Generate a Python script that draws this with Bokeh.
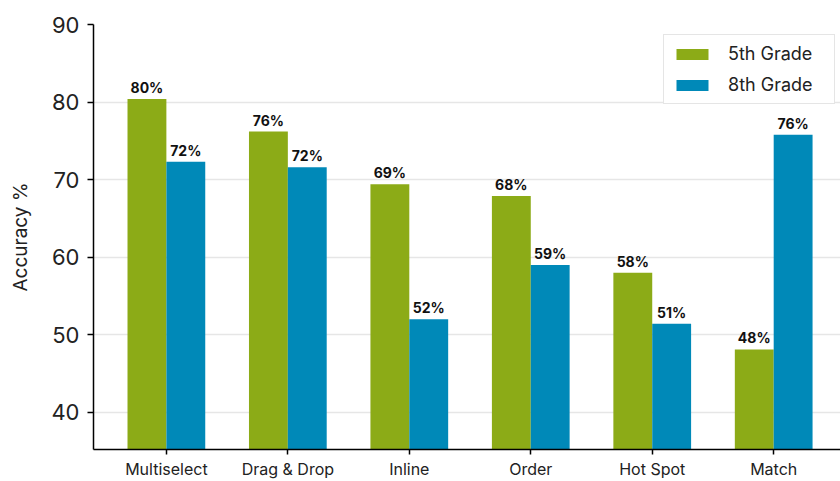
from bokeh.plotting import figure
from bokeh.models import ColumnDataSource, Range1d, FixedTicker, Legend, LegendItem
from bokeh.transform import dodge
from bokeh.core.properties import value
from bokeh.embed import file_html
from bokeh.resources import INLINE

categories = ["Multiselect", "Drag & Drop", "Inline", "Order", "Hot Spot", "Match"]
grade5 = [80.4, 76.2, 69.4, 67.9, 58.0, 48.1]
grade8 = [72.3, 71.6, 52.0, 59.0, 51.4, 75.8]
series_names = ["5th Grade", "8th Grade"]
y_ticks = [40, 50, 60, 70, 80, 90]

FONT = "Inter"
GREEN = "#8cab17"
BLUE = "#0089b8"

xs = list(range(len(categories)))
src = ColumnDataSource(dict(
    x=xs, g5=grade5, g8=grade8,
    l5=[f"{round(v)}%" for v in grade5],
    l8=[f"{round(v)}%" for v in grade8],
))

p = figure(width=840, height=481, x_range=Range1d(-0.6, 5.55), y_range=Range1d(35.2, 90),
           output_backend="svg", toolbar_location=None,
           min_border_left=93, min_border_right=0, min_border_top=24, min_border_bottom=32)
p.outline_line_color = None
p.background_fill_color = "white"

r5 = p.vbar(x=dodge('x', -0.16), top='g5', bottom=0, width=0.32, source=src,
            fill_color=GREEN, line_color=None)
r8 = p.vbar(x=dodge('x', 0.16), top='g8', bottom=0, width=0.32, source=src,
            fill_color=BLUE, line_color=None)

for col, lab, off in (("g5", "l5", -0.16), ("g8", "l8", 0.16)):
    p.text(x=dodge('x', off), y=col, text=lab, source=src, text_align="center",
           text_baseline="bottom", y_offset=-3, text_font=value(FONT),
           text_font_style="bold", text_font_size="14px", text_color="#111111")

p.xgrid.visible = False
p.ygrid.ticker = FixedTicker(ticks=y_ticks)
p.ygrid.grid_line_color = "#e6e6e6"
p.ygrid.grid_line_width = 1.5

p.yaxis.ticker = FixedTicker(ticks=y_ticks)
p.yaxis.axis_label = "Accuracy %"
p.yaxis.axis_label_text_font = FONT
p.yaxis.axis_label_text_font_size = "19px"
p.yaxis.axis_label_text_font_style = "normal"
p.yaxis.axis_label_text_color = "#222222"
p.yaxis.axis_label_standoff = 16
p.yaxis.major_label_text_font = FONT
p.yaxis.major_label_text_font_size = "22px"
p.yaxis.major_label_text_color = "#222222"
p.yaxis.major_label_standoff = 8

p.xaxis.ticker = FixedTicker(ticks=xs)
p.xaxis.major_label_overrides = {i: lab for i, lab in zip(xs, categories)}
p.xaxis.major_label_text_font = FONT
p.xaxis.major_label_text_font_size = "16px"
p.xaxis.major_label_text_color = "#222222"
p.xaxis.major_label_standoff = 4

for ax in (p.xaxis, p.yaxis):
    ax.axis_line_color = "black"
    ax.axis_line_width = 1.5
    ax.major_tick_line_color = "black"
    ax.major_tick_line_width = 1.5
    ax.major_tick_in = 0
    ax.minor_tick_line_color = None
p.yaxis.major_tick_out = 6
p.xaxis.major_tick_out = 5

legend = Legend(items=[LegendItem(label=series_names[0], renderers=[r5]),
                       LegendItem(label=series_names[1], renderers=[r8])],
                location=(570, 345))
legend.label_text_font = FONT
legend.label_text_font_size = "18px"
legend.label_text_color = "#222222"
legend.glyph_width = 40
legend.glyph_height = 14
legend.label_standoff = 16
legend.label_height = 20
legend.label_width = 98
legend.spacing = 10
legend.padding = 8
legend.margin = 0
legend.border_line_color = "#cccccc"
legend.border_line_width = 1
legend.background_fill_alpha = 1
p.add_layout(legend)

open("out.html", "w").write(file_html(p, INLINE))
